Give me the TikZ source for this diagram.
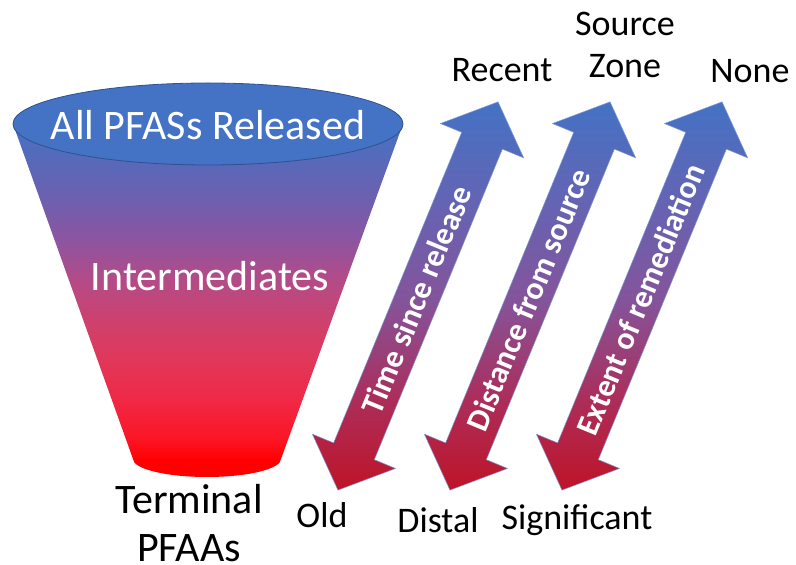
\documentclass[tikz,border=0pt]{standalone}
\usepackage{fontspec}
\setmainfont{Carlito}
\definecolor{fblue}{RGB}{68,114,196}
\definecolor{fedge}{RGB}{47,82,143}
\definecolor{fredc}{RGB}{255,0,0}
\definecolor{fa}{RGB}{110,95,175}
\definecolor{fb}{RGB}{140,85,160}
\definecolor{fc}{RGB}{180,75,135}
\definecolor{fd}{RGB}{205,65,110}
\definecolor{fe}{RGB}{225,55,90}
\definecolor{ff}{RGB}{240,40,70}
\definecolor{fg}{RGB}{252,20,35}
\definecolor{aa}{RGB}{100,100,180}
\definecolor{ab}{RGB}{132,84,155}
\definecolor{ac}{RGB}{172,45,90}
\definecolor{ared}{RGB}{190,20,40}
\pgfdeclareverticalshading{funnelsh}{100bp}{color(0bp)=(fredc); color(27.4bp)=(fredc); color(30.2bp)=(fg); color(35.9bp)=(ff); color(41.6bp)=(fe); color(47.2bp)=(fd); color(52.9bp)=(fc); color(58.6bp)=(fb); color(64.2bp)=(fa); color(75bp)=(fblue); color(100bp)=(fblue)}
\pgfdeclareverticalshading{arrowsh}{100bp}{color(0bp)=(ared); color(25bp)=(ared); color(36.6bp)=(ac); color(49.5bp)=(ab); color(62.4bp)=(aa); color(75bp)=(fblue); color(100bp)=(fblue)}
\begin{document}
\begin{tikzpicture}[x=1pt,y=1pt,
  funnelbody/.style={shading=funnelsh},
  bigarrow/.style={shading=arrowsh, draw=fblue!70, line width=0.5pt},
  bigtext/.style={text=white, font=\fontsize{42}{50}\selectfont, inner sep=0pt},
  arrowtext/.style={text=white, font=\bfseries\fontsize{32}{40}\selectfont, inner sep=0pt},
  endlabel/.style={text=black, font=\fontsize{36}{43}\selectfont, inner sep=0pt, anchor=base},
  termlabel/.style={text=black, font=\fontsize{42}{50}\selectfont, inner sep=0pt, anchor=base}]
\useasboundingbox (0,0) rectangle (796,565);
% funnel body
\path[funnelbody] (13,441) -- (133,106)
  arc[start angle=180, end angle=360, x radius=74, y radius=18]
  -- (403,441) -- cycle;
% top ellipse
\draw[fill=fblue, draw=fedge, line width=0.8pt] (208,441) ellipse [x radius=195, y radius=41];
\node[bigtext, anchor=base] (released) at (208,425) {All PFASs Released};
\node[bigtext, anchor=base] (inter) at (210,274) {Intermediates};
\node[termlabel] (term1) at (189,51) {Terminal};
\node[termlabel] (term2) at (189,3) {PFAAs};
% arrows
\foreach \n/\mx/\txt in {time/418/Time since release, dist/530/Distance from source, ext/642/Extent of remediation}{
  \begin{scope}[shift={(\mx,269)}, rotate=67.59]
    \path[bigarrow] (-210,0) -- (-168,45) -- (-168,22) -- (168,22) -- (168,45) -- (210,0)
      -- (168,-45) -- (168,-22) -- (-168,-22) -- (-168,-45) -- cycle;
    \node[arrowtext, transform shape] (\n) at (-4,0) {\txt};
  \end{scope}
}
% end labels
\node[endlabel] (recent) at (502,483) {Recent};
\node[endlabel] (source) at (625,529) {Source};
\node[endlabel] (zone) at (625,487) {Zone};
\node[endlabel] (none) at (750,482) {None};
\node[endlabel] (old) at (322,37) {Old};
\node[endlabel] (distal) at (438,32) {Distal};
\node[endlabel] (signif) at (577,35) {Significant};
\end{tikzpicture}
\end{document}
